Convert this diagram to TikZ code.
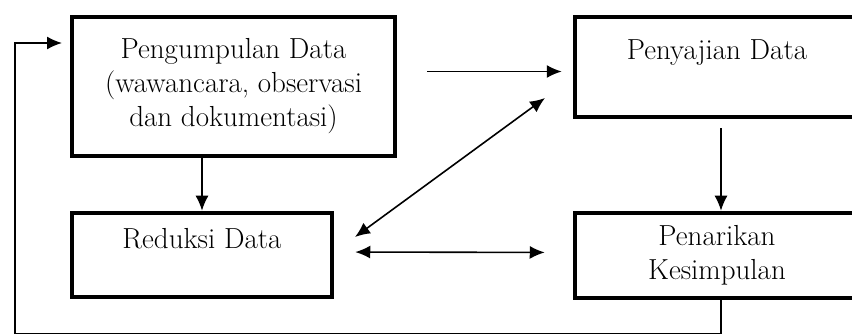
\documentclass[tikz,border=0pt]{standalone}
\usepackage{fontspec}
\usepackage{tikz}
\usetikzlibrary{arrows.meta}

\begin{document}
\begin{tikzpicture}[x=1pt,y=-1pt]
\tikzset{box/.style = {shape=rectangle,draw,line width=4.5pt,inner sep=0pt,align=center,font=\fontsize{29}{34}\selectfont}}
\tikzset{edge/.style = {->,line width=1.6pt,> = {Latex[length=15pt,width=13pt]}}}
\tikzset{both/.style = {edge,<->}}
\useasboundingbox (0,0) rectangle (852,334);
\clip (0,0) rectangle (852,334);
% boxes
\node[box,minimum width=323pt,minimum height=139pt] (peng) at (233.5,86.5) {Pengumpulan Data\\(wawancara, observasi\\dan dokumentasi)};
\node[box,minimum width=260pt,minimum height=84pt] (red) at (202,255) {Reduksi Data\\\mbox{}};
\node[box,minimum width=284pt,minimum height=100pt] (saj) at (717,67) {Penyajian Data\\\mbox{}};
\node[box,minimum width=284pt,minimum height=85pt] (tar) at (717,255.5) {Penarikan\\Kesimpulan};
% free ends
\coordinate (tin) at (427,71.5);
\coordinate (dlow) at (355,237);
\coordinate (dup) at (545,98);
\coordinate (back) at (62,43);
% edges
\draw[edge] (peng.south -| red.north) to (red.north);
\draw[edge,shorten <=9pt] ([xshift=4pt]saj.south) to ([xshift=4pt]tar.north);
\draw[edge,shorten >=11pt] (tin) to (saj.west |- tin);
\draw[both] (dlow) to (dup);
\draw[both,shorten <=21pt,shorten >=28pt] ([yshift=3pt]red.east) to ([yshift=3pt]tar.west);
\draw[edge] ([xshift=4pt]tar.south) -- ++(0,34) -| (15,43) -- (back);
\end{tikzpicture}
\end{document}
